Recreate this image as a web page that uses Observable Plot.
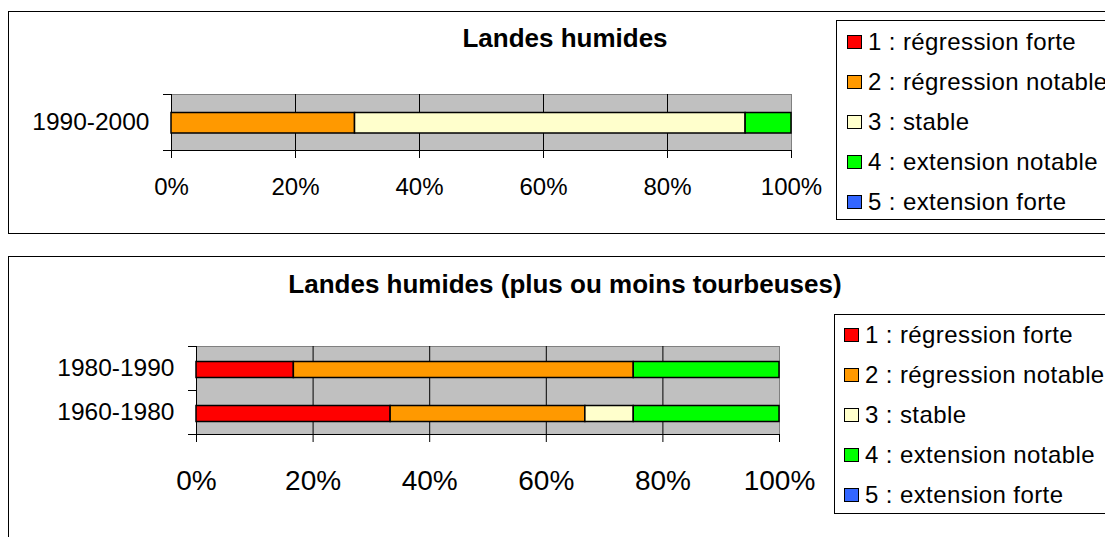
<!DOCTYPE html>
<html><head><meta charset="utf-8">
<script src="https://cdn.jsdelivr.net/npm/d3@7"></script>
<script src="https://cdn.jsdelivr.net/npm/@observablehq/plot@0.6"></script>
<style>
body{margin:0;background:#fff;font-family:"Liberation Sans",Arial,sans-serif;}
#page{position:relative;width:1105px;height:537px;overflow:hidden;background:#fff;}
.frame{position:absolute;border:1px solid #000;box-sizing:border-box;}
.title{position:absolute;left:0;width:1130px;text-align:center;font-weight:bold;font-size:26px;line-height:26px;white-space:nowrap;color:#000;}
.legend{position:absolute;border:1px solid #000;background:#fff;width:400px;box-sizing:border-box;}
.row{position:absolute;height:40px;display:flex;align-items:center;font-size:24px;letter-spacing:0.4px;white-space:nowrap;color:#000;}
.sw{width:15px;height:14px;box-sizing:border-box;border:1.5px solid #000;margin-right:6px;flex:none;}
.pl{position:absolute;}
</style></head><body><div id="page"></div>
<script>
const classes = ["1 : régression forte", "2 : régression notable", "3 : stable", "4 : extension notable", "5 : extension forte"];
const colors = ["#ff0000", "#ff9900", "#ffffcc", "#00ff00", "#3366ff"];
const xTicks = [0, 20, 40, 60, 80, 100];

const title1 = "Landes humides";
const periods1 = ["1990-2000"];
const shares1 = [[0, 29.6, 63.0, 7.4, 0]];

const title2 = "Landes humides (plus ou moins tourbeuses)";
const periods2 = ["1960-1980", "1980-1990"];
const shares2 = [[33.3, 33.4, 8.3, 25.0, 0], [16.7, 58.3, 0, 25.0, 0]];

function segments(periods, shares) {
  const out = [];
  periods.forEach((p, i) => {
    let acc = 0;
    shares[i].forEach((v, k) => {
      if (v > 0) out.push({period: p, i, cls: classes[k], x1: acc, x2: acc + v});
      acc += v;
    });
  });
  return out;
}

function chart({periods, shares, width, height, margins, tickFont, tickPad, insetTop, insetBottom}) {
  const n = periods.length;
  const segs = segments(periods, shares);
  return Plot.plot({
    width, height, ...margins,
    style: {background: "transparent", color: "#000", fontFamily: "Liberation Sans, Arial, sans-serif", overflow: "visible"},
    x: {domain: [0, 100]},
    y: {domain: [0, n]},
    color: {domain: classes, range: colors},
    marks: [
      Plot.frame({fill: "#c0c0c0", stroke: "#808080"}),
      Plot.ruleX(xTicks.filter(t => t > 0 && t < 100), {stroke: "#000", strokeWidth: 1}),
      Plot.ruleX([0], {stroke: "#000"}),
      Plot.ruleY([0], {stroke: "#000"}),
      Plot.rect(segs, {x1: "x1", x2: "x2", y1: d => d.i, y2: d => d.i + 1, insetTop, insetBottom, fill: "cls", stroke: "#000", strokeWidth: 1.5}),
      Plot.axisX({ticks: xTicks, tickSize: 8, tickPadding: tickPad, tickFormat: d => d + "%", fontSize: tickFont, label: null}),
      Plot.axisY({ticks: d3.range(n + 1), tickSize: 8, tickFormat: () => "", label: null}),
      Plot.axisY({ticks: periods.map((p, i) => i + 0.5), tickSize: 0, tickPadding: 22, tickFormat: v => periods[Math.floor(v)], fontSize: 24.5, label: null})
    ]
  });
}

const page = document.getElementById("page");
function add(html, cls, css) {
  const d = document.createElement("div");
  d.className = cls;
  if (html != null) d.textContent = html;
  Object.assign(d.style, css);
  page.appendChild(d);
  return d;
}
function legend(left, top, height, swLeft, firstRow) {
  add(null, "legend", {left: left + "px", top: top + "px", height: height + "px"});
  classes.forEach((c, k) => {
    const r = add(null, "row", {left: swLeft + "px", top: (firstRow + 40 * k - 20) + "px"});
    const sw = document.createElement("div");
    sw.className = "sw";
    sw.style.background = colors[k];
    r.appendChild(sw);
    const t = document.createElement("span");
    t.textContent = c;
    r.appendChild(t);
  });
}

// Panel 1
add(null, "frame", {left: "8px", top: "11px", width: "1200px", height: "223px"});
const p1 = chart({periods: periods1, shares: shares1, width: 820, height: 220,
  margins: {marginLeft: 161, marginRight: 39, marginTop: 81, marginBottom: 83},
  tickFont: 24, tickPad: 19, insetTop: 18.5, insetBottom: 17});
p1.classList.add("pl"); p1.style.left = "10px"; p1.style.top = "13px";
page.appendChild(p1);
add(title1, "title", {top: "25px"});
legend(836, 20, 200, 847, 41.5);

// Panel 2
add(null, "frame", {left: "8px", top: "256px", width: "1200px", height: "400px"});
const p2 = chart({periods: periods2, shares: shares2, width: 820, height: 279,
  margins: {marginLeft: 186, marginRight: 51, marginTop: 88, marginBottom: 103},
  tickFont: 28, tickPad: 28, insetTop: 15.5, insetBottom: 12.5});
p2.classList.add("pl"); p2.style.left = "10px"; p2.style.top = "258px";
page.appendChild(p2);
add(title2, "title", {top: "271px"});
legend(834, 314, 200, 844, 335);
</script></body></html>
